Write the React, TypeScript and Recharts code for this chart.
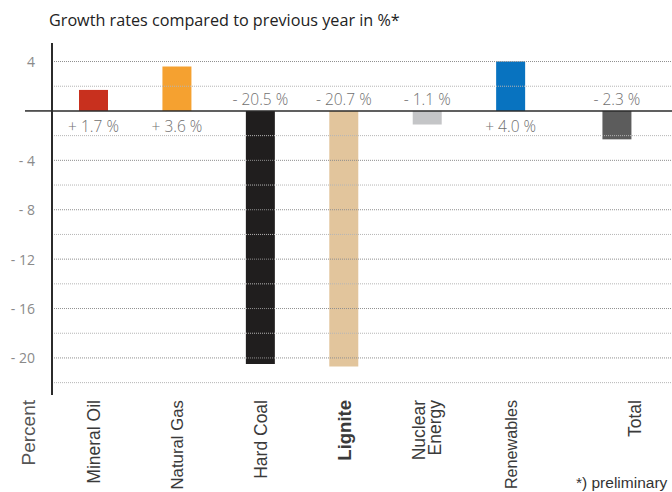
import { BarChart, Bar, XAxis, YAxis, Cell, LabelList, ReferenceLine } from 'recharts'

const categories = ['Mineral Oil', 'Natural Gas', 'Hard Coal', 'Lignite', 'Nuclear Energy', 'Renewables', 'Total']
const growth = [1.7, 3.6, -20.5, -20.7, -1.1, 4.0, -2.3]
const barColors = ['#c8301e', '#f5a130', '#201e1e', '#e2c59c', '#c4c5c7', '#0873c0', '#5c5c5c']
const yTicks = [4, 2, 0, -2, -4, -6, -8, -10, -12, -14, -16, -18, -20, -22]
const labeledTicks = [4, -4, -8, -12, -16, -20]

const TOTAL = 'Total'

// Total sits on its own axis so it can stand a little apart from the sources
const rows = categories.map((name, i) => ({
  name,
  source: name === TOTAL ? null : growth[i],
  total: name === TOTAL ? growth[i] : null,
}))

const fmtGrowth = (v: number) => `${v >= 0 ? '+' : '-'} ${Math.abs(v).toFixed(1)} %`

// long captions are set a touch smaller so they stay on the page
const captionSize: Record<string, number> = { Lignite: 18.5, 'Natural Gas': 16.8, Renewables: 16.2 }

function GrowthLabel(props: any) {
  const { value } = props
  if (value == null) return null
  const box = props.viewBox ?? props
  const x = Number(box.x ?? props.x)
  const y = Number(box.y ?? props.y)
  const w = Number(box.width ?? props.width)
  const h = Number(box.height ?? props.height)
  const top = Math.min(y, y + h)
  const bottom = Math.max(y, y + h)
  const v = Number(value)
  const zeroY = v >= 0 ? bottom : top
  return (
    <text
      x={x + w / 2}
      y={v >= 0 ? zeroY + 15 : zeroY - 12}
      textAnchor="middle"
      dominantBaseline="central"
      fill="#707070"
      fontSize={15.5}
      fontFamily="'Open Sans', sans-serif"
      fontWeight={300}
    >
      {fmtGrowth(v)}
    </text>
  )
}

function CategoryTick(props: any) {
  const { x, y, payload } = props
  const name: string = payload.value
  // the Total caption is set further right than its band centre
  const cx = x + (name === TOTAL ? 41 : 0)
  const lines = name === 'Nuclear Energy' ? ['Nuclear', 'Energy'] : [name]
  const shift = lines.length > 1 ? -8 : 0
  return (
    <g>
      {lines.map((line, i) => (
        <text
          key={line}
          x={cx + shift + i * 16}
          y={y}
          transform={`rotate(-90 ${cx + shift + i * 16} ${y})`}
          textAnchor="end"
          dominantBaseline="central"
          fill="#3a3a3a"
          fontSize={captionSize[name] ?? 17.5}
          fontWeight={name === 'Lignite' ? 600 : 400}
          fontFamily="'Liberation Sans', Arial, sans-serif"
        >
          {line}
        </text>
      ))}
    </g>
  )
}

function PercentTick(props: any) {
  const { x, y, payload } = props
  const v = Number(payload.value)
  if (v === 0) return <line x1={x - 10} x2={x + 17} y1={y} y2={y} stroke="#2b2b2b" strokeWidth={1.5} />
  if (!labeledTicks.includes(v)) return null
  return (
    <text
      x={x}
      y={y}
      textAnchor="end"
      dominantBaseline="central"
      fill="#8a8a8a"
      fontSize={14}
      fontFamily="'Open Sans', sans-serif"
    >
      {v > 0 ? `${v}` : `- ${-v}`}
    </text>
  )
}

export default function App() {
  return (
    <div style={{ position: 'absolute', left: 0, top: 0, width: 672, height: 492, background: '#fff' }}>
      <BarChart
        width={672}
        height={492}
        data={rows}
        margin={{ top: 43, right: 0, bottom: 0, left: 0 }}
        barSize={29}
      >
        <XAxis xAxisId="tot" dataKey="name" hide padding={{ left: 22, right: 13 }} />
        <XAxis
          xAxisId="main"
          dataKey="name"
          height={97}
          axisLine={false}
          tickLine={false}
          tickSize={0}
          tickMargin={5}
          interval={0}
          padding={{ left: 0, right: 36 }}
          tick={<CategoryTick />}
        />
        <YAxis
          domain={[-23, 5.5]}
          ticks={yTicks}
          interval={0}
          width={52}
          tickSize={0}
          tickMargin={17}
          tickLine={false}
          axisLine={{ stroke: '#2b2b2b', strokeWidth: 2 }}
          tick={<PercentTick />}
        />
        {yTicks
          .filter((t) => t !== 0)
          .map((t) => (
            <ReferenceLine
              key={t}
              xAxisId="main"
              y={t}
              stroke={labeledTicks.includes(t) ? '#8f8f8f' : '#b5b5b5'}
              strokeDasharray="1 1"
            />
          ))}
        <Bar xAxisId="main" dataKey="source" isAnimationActive={false}>
          {rows.map((r, i) => (
            <Cell key={r.name} fill={barColors[i]} />
          ))}
          <LabelList dataKey="source" content={<GrowthLabel />} />
        </Bar>
        <Bar xAxisId="tot" dataKey="total" fill={barColors[6]} isAnimationActive={false}>
          <LabelList dataKey="total" content={<GrowthLabel />} />
        </Bar>
        <ReferenceLine xAxisId="main" y={0} stroke="#2b2b2b" strokeWidth={1.5} />
      </BarChart>
      <svg width={672} height={492} style={{ position: 'absolute', left: 0, top: 0, pointerEvents: 'none' }}>
        <text x={49} y={26} fill="#222" fontSize={16.2} fontFamily="'Open Sans', sans-serif">
          Growth rates compared to previous year in %*
        </text>
        <text
          x={28}
          y={400}
          transform="rotate(-90 28 400)"
          textAnchor="end"
          dominantBaseline="central"
          fill="#555"
          fontSize={19}
          fontFamily="'Liberation Sans', Arial, sans-serif"
        >
          Percent
        </text>
        <text x={576} y={482} dominantBaseline="central" fill="#333" fontSize={15.5} fontFamily="'Liberation Sans', Arial, sans-serif">
          *) preliminary
        </text>
      </svg>
    </div>
  )
}
